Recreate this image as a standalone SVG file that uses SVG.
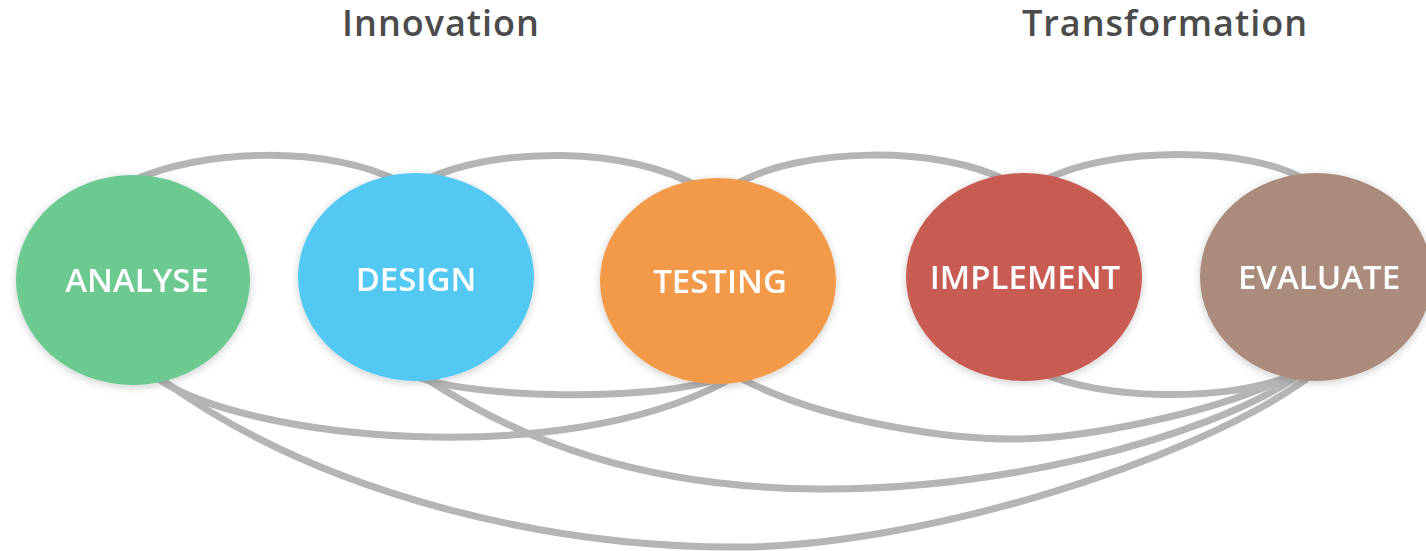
<svg xmlns="http://www.w3.org/2000/svg" width="1426" height="551" viewBox="0 0 1426 551">
  <defs>
    <filter id="shadow" x="-20%" y="-20%" width="140%" height="140%">
      <feDropShadow dx="0" dy="2" stdDeviation="4" flood-color="#000" flood-opacity="0.2"/>
    </filter>
  </defs>
  <style>
    .title { font-family: "Open Sans", "DejaVu Sans", sans-serif; font-weight: 600; font-size: 36px; fill: #4b4b4b; text-anchor: middle; letter-spacing: 1px; }
    .label { font-family: "Open Sans", "DejaVu Sans", sans-serif; font-weight: 600; font-size: 33px; fill: #ffffff; text-anchor: middle; }
    .link { fill: none; stroke: #b5b5b5; stroke-width: 7; stroke-linecap: round; }
    .node { filter: url(#shadow); }
  </style>
  <rect width="1426" height="551" fill="#ffffff"/>

  <g id="titles">
    <text class="title" x="441" y="36">Innovation</text>
    <text class="title" x="1165" y="36">Transformation</text>
  </g>

  <g id="connectors">
    <!-- top arcs -->
    <path class="link" d="M 130 182 C 200 148, 330 145, 400 182"/>
    <path class="link" d="M 425 180 C 495 146, 630 146, 700 188"/>
    <path class="link" d="M 735 185 C 800 146, 940 146, 1005 180"/>
    <path class="link" d="M 1045 180 C 1110 146, 1250 146, 1305 180"/>
    <!-- bottom curves -->
    <path class="link" d="M 420 378 C 480 398, 640 402, 715 380"/>
    <path class="link" d="M 160 380 C 250 440, 560 470, 725 382"/>
    <path class="link" d="M 165 382 C 330 500, 560 548, 740 547 C 920 546, 1190 462, 1305 380"/>
    <path class="link" d="M 425 378 C 520 440, 640 488, 820 489 C 1000 490, 1200 440, 1295 378"/>
    <path class="link" d="M 740 378 C 830 425, 960 440, 1020 439 C 1080 438, 1210 415, 1285 378"/>
    <path class="link" d="M 1040 372 C 1100 400, 1220 402, 1285 378"/>
  </g>

  <g id="node-analyse" class="node">
    <ellipse cx="133" cy="280" rx="117" ry="105" fill="#6cca91"/>
    <text class="label" x="137" y="292">ANALYSE</text>
  </g>
  <g id="node-design" class="node">
    <ellipse cx="416" cy="277" rx="118" ry="104" fill="#53c8f2"/>
    <text class="label" x="416" y="291">DESIGN</text>
  </g>
  <g id="node-testing" class="node">
    <ellipse cx="718" cy="281" rx="118" ry="103" fill="#f29a48"/>
    <text class="label" x="720" y="293">TESTING</text>
  </g>
  <g id="node-implement" class="node">
    <ellipse cx="1024" cy="277" rx="118" ry="104" fill="#c85b52"/>
    <text class="label" x="1025" y="289">IMPLEMENT</text>
  </g>
  <g id="node-evaluate" class="node">
    <ellipse cx="1316" cy="277" rx="116" ry="104" fill="#aa8b7b"/>
    <text class="label" x="1319" y="289">EVALUATE</text>
  </g>
</svg>
